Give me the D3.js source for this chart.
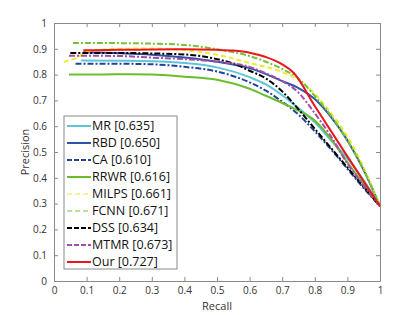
<!DOCTYPE html>
<html>
<head>
<meta charset="utf-8">
<script src="https://cdn.jsdelivr.net/npm/d3@7"></script>
<style>
  body { margin: 0; background: #fff; }
  svg { display: block; font-family: "Open Sans", "Noto Sans", sans-serif; }
</style>
</head>
<body>
<svg id="chart" width="420" height="315"></svg>
<script>
// PR curves, values
const names = ["MR", "RBD", "CA", "RRWR", "MILPS", "FCNN", "DSS", "MTMR", "Our"];
const scores = ["0.635", "0.650", "0.610", "0.616", "0.661", "0.671", "0.634", "0.673", "0.727"];

const mrRecall = [0.083, 0.2, 0.3, 0.4, 0.5, 0.6, 0.65, 0.7, 0.75, 0.8, 0.85, 0.9, 0.95, 1];
const mrPrec   = [0.855, 0.854, 0.852, 0.845, 0.828, 0.79, 0.762, 0.72, 0.67, 0.615, 0.545, 0.475, 0.39, 0.29];
const rbdRecall = [0.09, 0.2, 0.3, 0.4, 0.5, 0.6, 0.7, 0.75, 0.8, 0.85, 0.9, 0.95, 1];
const rbdPrec   = [0.887, 0.883, 0.877, 0.866, 0.85, 0.825, 0.775, 0.748, 0.705, 0.635, 0.545, 0.43, 0.29];
const caRecall = [0.066, 0.1, 0.2, 0.3, 0.4, 0.5, 0.6, 0.65, 0.7, 0.75, 0.8, 0.85, 0.9, 0.95, 1];
const caPrec   = [0.842, 0.842, 0.842, 0.84, 0.83, 0.812, 0.77, 0.738, 0.695, 0.645, 0.58, 0.51, 0.435, 0.36, 0.29];
const rrwrRecall = [0.046, 0.1, 0.2, 0.3, 0.4, 0.5, 0.6, 0.65, 0.7, 0.75, 0.8, 0.85, 0.9, 0.95, 1];
const rrwrPrec   = [0.8, 0.8, 0.801, 0.8, 0.792, 0.78, 0.745, 0.718, 0.69, 0.66, 0.622, 0.55, 0.46, 0.375, 0.29];
const milpsRecall = [0.03, 0.065, 0.105, 0.19, 0.3, 0.4, 0.5, 0.6, 0.7, 0.75, 0.8, 0.85, 0.9, 0.95, 1];
const milpsPrec   = [0.849, 0.863, 0.889, 0.9, 0.901, 0.895, 0.877, 0.845, 0.81, 0.78, 0.725, 0.65, 0.56, 0.44, 0.29];
const fcnnRecall = [0.058, 0.1, 0.2, 0.3, 0.4, 0.5, 0.6, 0.65, 0.7, 0.75, 0.8, 0.85, 0.9, 0.95, 1];
const fcnnPrec   = [0.922, 0.922, 0.922, 0.92, 0.915, 0.898, 0.872, 0.85, 0.822, 0.785, 0.717, 0.64, 0.545, 0.43, 0.29];
const dssRecall = [0.05, 0.1, 0.2, 0.3, 0.4, 0.5, 0.55, 0.6, 0.65, 0.7, 0.75, 0.8, 0.85, 0.9, 0.95, 1];
const dssPrec   = [0.884, 0.884, 0.884, 0.882, 0.878, 0.86, 0.843, 0.815, 0.785, 0.735, 0.665, 0.59, 0.515, 0.44, 0.365, 0.29];
const mtmrRecall = [0.046, 0.1, 0.2, 0.3, 0.4, 0.5, 0.6, 0.65, 0.7, 0.75, 0.8, 0.85, 0.9, 0.95, 1];
const mtmrPrec   = [0.873, 0.873, 0.872, 0.866, 0.86, 0.85, 0.83, 0.805, 0.775, 0.73, 0.65, 0.56, 0.455, 0.37, 0.29];
const ourRecall = [0.09, 0.2, 0.3, 0.4, 0.5, 0.55, 0.6, 0.65, 0.7, 0.735, 0.8, 0.9, 1];
const ourPrec   = [0.894, 0.896, 0.897, 0.898, 0.896, 0.893, 0.885, 0.868, 0.84, 0.807, 0.678, 0.483, 0.29];

const xTicks = [0, 0.1, 0.2, 0.3, 0.4, 0.5, 0.6, 0.7, 0.8, 0.9, 1];
const yTicks = [0, 0.1, 0.2, 0.3, 0.4, 0.5, 0.6, 0.7, 0.8, 0.9, 1];

const series = [
  {recall: mrRecall, prec: mrPrec, color: "#5ec6d6", dash: null, legendWidth: 2},
  {recall: rbdRecall, prec: rbdPrec, color: "#2b56a8", dash: null, legendWidth: 2},
  {recall: caRecall, prec: caPrec, color: "#1f449a", dash: "6,2,2,2", legendWidth: 2},
  {recall: rrwrRecall, prec: rrwrPrec, color: "#6cbd2e", dash: null, legendWidth: 2},
  {recall: milpsRecall, prec: milpsPrec, color: "#ecec30", dash: "5,3", legendWidth: 1},
  {recall: fcnnRecall, prec: fcnnPrec, color: "#78c03a", dash: "6,2,2,2", legendWidth: 1},
  {recall: dssRecall, prec: dssPrec, color: "#000000", dash: "6,2,2,2", legendWidth: 2},
  {recall: mtmrRecall, prec: mtmrPrec, color: "#a64ca6", dash: "6,2,2,2", legendWidth: 2},
  {recall: ourRecall, prec: ourPrec, color: "#e8171c", dash: null, legendWidth: 2}
];
series.forEach((s, i) => { s.name = names[i]; s.score = scores[i]; });

const svg = d3.select("#chart");
const margin = {left: 54, right: 40, top: 23, bottom: 34};
const W = 420, H = 315;
const x = d3.scaleLinear().domain([0, 1]).range([margin.left, W - margin.right]);
const y = d3.scaleLinear().domain([0, 1]).range([H - margin.bottom, margin.top]);

const axisColor = "#8a8a8a";
const tickFmt = d => d === 0 || d === 1 ? String(d) : d3.format(".1f")(d);

// bottom & left axes with inward ticks, top & right just close the box
const gx = svg.append("g").attr("transform", `translate(0,${y(0)})`)
  .call(d3.axisBottom(x).tickValues(xTicks).tickFormat(tickFmt).tickSizeInner(-4).tickSizeOuter(0).tickPadding(6));
const gy = svg.append("g").attr("transform", `translate(${x(0)},0)`)
  .call(d3.axisLeft(y).tickValues(yTicks).tickFormat(tickFmt).tickSizeInner(-4).tickSizeOuter(0).tickPadding(7));
const gt = svg.append("g").attr("transform", `translate(0,${y(1)})`)
  .call(d3.axisTop(x).tickValues(xTicks).tickFormat("").tickSizeInner(-4).tickSizeOuter(0));
const gr = svg.append("g").attr("transform", `translate(${x(1)},0)`)
  .call(d3.axisRight(y).tickValues(yTicks).tickFormat("").tickSizeInner(-4).tickSizeOuter(0));

[gx, gy, gt, gr].forEach(g => {
  g.select(".domain").attr("stroke", axisColor);
  g.selectAll(".tick line").attr("stroke", axisColor);
  g.selectAll(".tick text").attr("fill", "#333").style("font-size", "10px")
    .style("font-family", '"Open Sans", sans-serif');
});

svg.append("text").attr("x", x(0.5)).attr("y", 310).attr("text-anchor", "middle")
  .style("font-size", "11px").attr("fill", "#333").text("Recall");
svg.append("text").attr("transform", `translate(29,${y(0.5)}) rotate(-90)`).attr("text-anchor", "middle")
  .style("font-size", "11px").attr("fill", "#333").text("Precision");

const line = d3.line().x(d => x(d[0])).y(d => y(d[1])).curve(d3.curveMonotoneX);
const plot = svg.append("g");
series.forEach(s => {
  const pts = s.recall.map((r, i) => [r, s.prec[i]]);
  plot.append("path").datum(pts)
    .attr("d", line)
    .attr("fill", "none")
    .attr("stroke", s.color)
    .attr("stroke-width", 2)
    .attr("stroke-dasharray", s.dash)
    .attr("stroke-linejoin", "round");
});

// legend
const lg = svg.append("g").attr("transform", "translate(64,116)");
lg.append("rect").attr("width", 113).attr("height", 153)
  .attr("fill", "#fff").attr("stroke", "#8a8a8a").attr("stroke-width", 1);
const rows = lg.selectAll("g.row").data(series).enter().append("g")
  .attr("transform", (d, i) => `translate(0,${10 + i * 17})`);
rows.append("line").attr("x1", 3).attr("x2", 27).attr("y1", 0).attr("y2", 0)
  .attr("stroke", d => d.color).attr("stroke-width", d => d.legendWidth)
  .attr("stroke-dasharray", d => d.dash ? (d.legendWidth === 1 ? "5,3" : "5,2") : null);
rows.append("text").attr("x", 28).attr("y", 0).attr("dy", "0.35em")
  .style("font-size", "12.5px").attr("fill", "#111")
  .text(d => `${d.name} [${d.score}]`);
</script>
</body>
</html>
